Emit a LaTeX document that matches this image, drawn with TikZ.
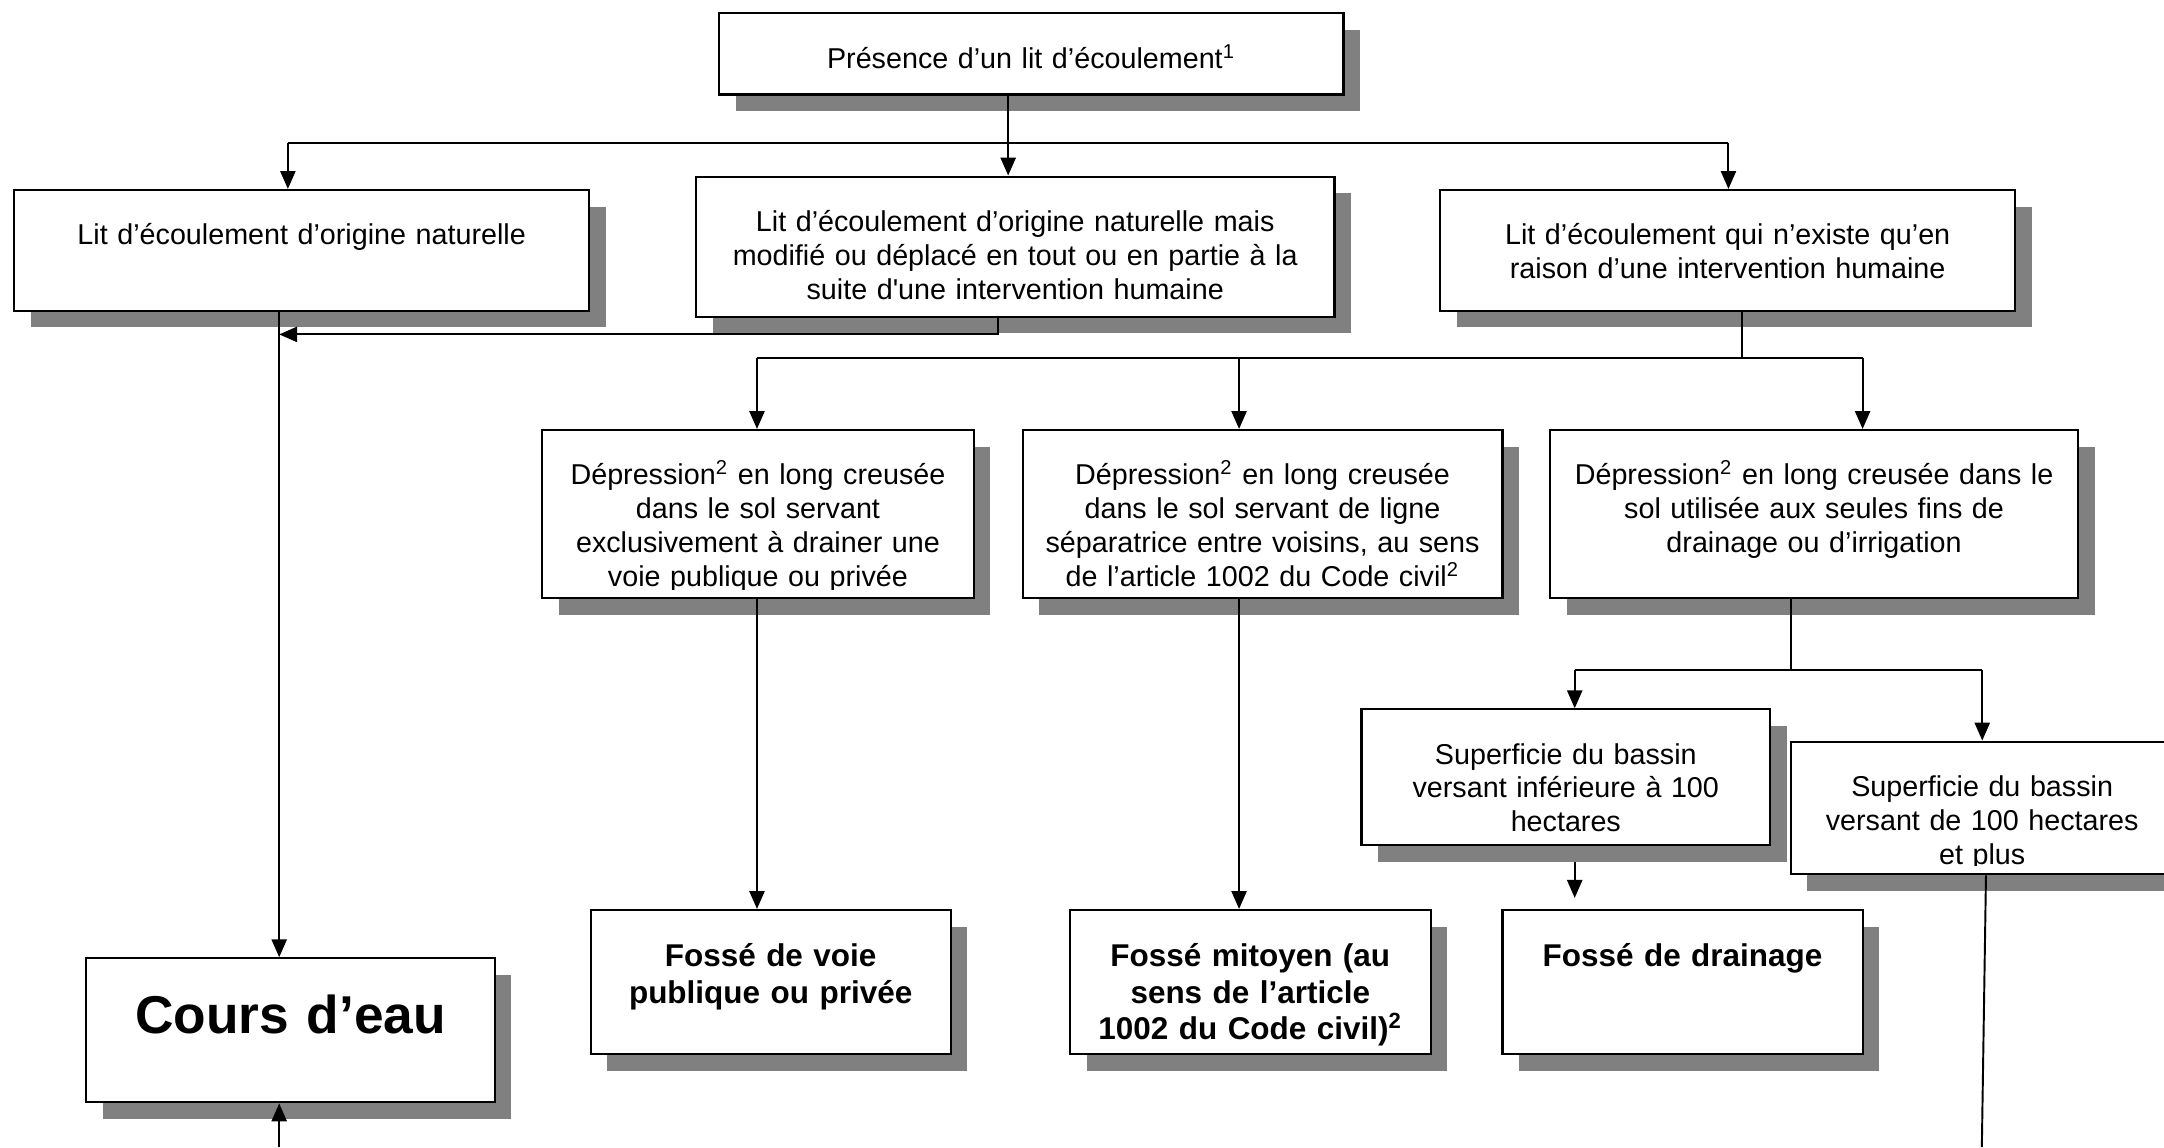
\documentclass[tikz,border=0pt]{standalone}
\usepackage{fontspec}
\setmainfont{Liberation Sans}[Ligatures=TeXOff]
\usetikzlibrary{arrows.meta,fit,calc,shadows,backgrounds}
\definecolor{shgray}{HTML}{808080}
\begin{document}
\begin{tikzpicture}[x=0.5pt,y=-0.5pt,
  box/.style={draw=black, line width=0.8pt, fill=white, inner sep=0pt,
    general shadow={fill=shgray, shadow xshift=6pt, shadow yshift=-6pt}},
  txt/.style={inner sep=0pt, align=center, text width=250pt, anchor=base,
    font=\fontsize{10.4pt}{12.25pt}\selectfont},
  btxt/.style={inner sep=0pt, align=center, text width=250pt, anchor=base,
    font=\fontsize{11.4pt}{13.15pt}\selectfont\bfseries},
  bigtxt/.style={inner sep=0pt, align=center, text width=250pt, anchor=base,
    font=\fontsize{19.3pt}{23pt}\selectfont\bfseries},
  conn/.style={line width=0.7pt},
  arr/.style={conn, -{Triangle[length=6.5pt,width=5.5pt]}}]
\useasboundingbox (0,0) rectangle (1568,831.1);
\clip (0,0) rectangle (1568,831.1);

% boxes
\node[box, fit={(521,9.7)(973.4,68.4)}] (b1) {};
\node[box, fit={(10.2,137.7)(427,225.1)}] (b2) {};
\node[box, fit={(504.3,128)(966.9,229.5)}] (b3) {};
\node[box, fit={(1043.5,137.7)(1460.2,225.1)}] (b4) {};
\node[box, fit={(392.9,311.6)(705.5,433.5)}] (d1) {};
\node[box, fit={(741,311.6)(1088.6,433.5)}] (d2) {};
\node[box, fit={(1123.1,311.6)(1505.8,433.5)}] (d3) {};
\node[box, fit={(986.5,514)(1282.6,612.3)}] (sp1) {};
\node[box, fit={(1297.5,537.4)(1575,633.5)}] (sp2) {};
\node[box, fit={(62.5,694.4)(358.4,798.7)}] (ce) {};
\node[box, fit={(428,659.4)(688.8,763.7)}] (fv) {};
\node[box, fit={(775.3,659.4)(1036.6,763.7)}] (fm) {};
\node[box, fit={(1088.6,659.4)(1349.6,763.7)}] (dr) {};

% texts
\node[txt] (t-b1) at ($(b1.north)+(0,40.5)$) {Présence d’un lit d’écoulement\textsuperscript{1}};
\node[txt] (t-b2) at ($(b2.north)+(0,40.5)$) {Lit d’écoulement d’origine naturelle};
\node[txt] (t-b3) at ($(b3.north)+(0,40.5)$) {Lit d’écoulement d’origine naturelle mais\\modifié ou déplacé en tout ou en partie à la\\suite d'une intervention humaine};
\node[txt] (t-b4) at ($(b4.north)+(0,40.5)$) {Lit d’écoulement qui n’existe qu’en\\raison d’une intervention humaine};
\begin{scope}
\clip (d1.north west) rectangle ($(d1.south east)+(0,-7)$);
\node[txt] (t-d1) at ($(d1.north)+(0,40.5)$) {Dépression\textsuperscript{2} en long creusée\\dans le sol servant\\exclusivement à drainer une\\voie publique ou privée};
\end{scope}
\node[txt] (t-d2) at ($(d2.north)+(0,40.5)$) {Dépression\textsuperscript{2} en long creusée\\dans le sol servant de ligne\\séparatrice entre voisins, au sens\\de l’article 1002 du Code civil\textsuperscript{2}};
\node[txt] (t-d3) at ($(d3.north)+(0,40.5)$) {Dépression\textsuperscript{2} en long creusée dans le\\sol utilisée aux seules fins de\\drainage ou d’irrigation};
\node[txt] (t-sp1) at ($(sp1.north)+(0,40.5)$) {Superficie du bassin\\versant inférieure à 100\\hectares};
\begin{scope}
\clip (sp2.north west) rectangle ($(sp2.south east)+(0,-7)$);
\node[txt] (t-sp2) at ($(sp2.north)+(0,40.5)$) {Superficie du bassin\\versant de 100 hectares\\et plus};
\end{scope}
\node[bigtxt] (t-ce) at ($(ce.north)+(0,55.6)$) {Cours d’eau};
\node[btxt] (t-fv) at ($(fv.north)+(0,42)$) {Fossé de voie\\publique ou privée};
\node[btxt] (t-fm) at ($(fm.north)+(0,42)$) {Fossé mitoyen (au\\sens de l’article\\1002 du Code civil)\textsuperscript{2}};
\node[btxt] (t-dr) at ($(dr.north)+(0,42)$) {Fossé de drainage};

% junction coordinates
\coordinate (v1) at (730.5,103.4);
\coordinate (h1) at (208.6,103.4);
\coordinate (h2) at (1252.4,103.4);
\coordinate (m1) at (722.9,242.3);
\coordinate (m2) at (202.3,242.3);
\coordinate (bot1) at (202.3,831.1);
\coordinate (s1) at (1262.5,259.6);
\coordinate (s1l) at (548.5,259.6);
\coordinate (s1m) at (897.8,259.6);
\coordinate (s1r) at (1349.6,259.6);
\coordinate (s2) at (1297.5,485.5);
\coordinate (s2l) at (1141,485.5);
\coordinate (s2r) at (1436.3,485.5);
\coordinate (q1) at (1439,0);
\coordinate (bot2) at (1436,831.1);

% connectors
\draw[arr] (b1.south -| v1) -- (b3.north -| v1);
\draw[conn] (h1) -- (h2);
\draw[arr] (h1) -- (b2.north -| h1);
\draw[arr] (h2) -- (b4.north -| h2);
\draw[arr] (b3.south -| m1) -- (m1) -- (m2);
\draw[arr] (b2.south -| m2) -- (ce.north -| m2);
\draw[arr] (bot1) -- (ce.south -| bot1);
\draw[conn] (b4.south -| s1) -- (s1);
\draw[conn] (s1l) -- (s1r);
\draw[arr] (s1l) -- (d1.north -| s1l);
\draw[arr] (s1m) -- (d2.north -| s1m);
\draw[arr] (s1r) -- (d3.north -| s1r);
\draw[arr] (d1.south -| s1l) -- (fv.north -| s1l);
\draw[arr] (d2.south -| s1m) -- (fm.north -| s1m);
\draw[conn] (d3.south -| s2) -- (s2);
\draw[conn] (s2l) -- (s2r);
\draw[arr] (s2l) -- (sp1.north -| s2l);
\draw[arr] (s2r) -- (sp2.north -| s2r);
\draw[conn] (sp2.south -| q1) -- (bot2);
\begin{pgfonlayer}{background}
\draw[arr, shorten >=4pt] (sp1.south -| s2l) -- (dr.north -| s2l);
\end{pgfonlayer}
\end{tikzpicture}
\end{document}
